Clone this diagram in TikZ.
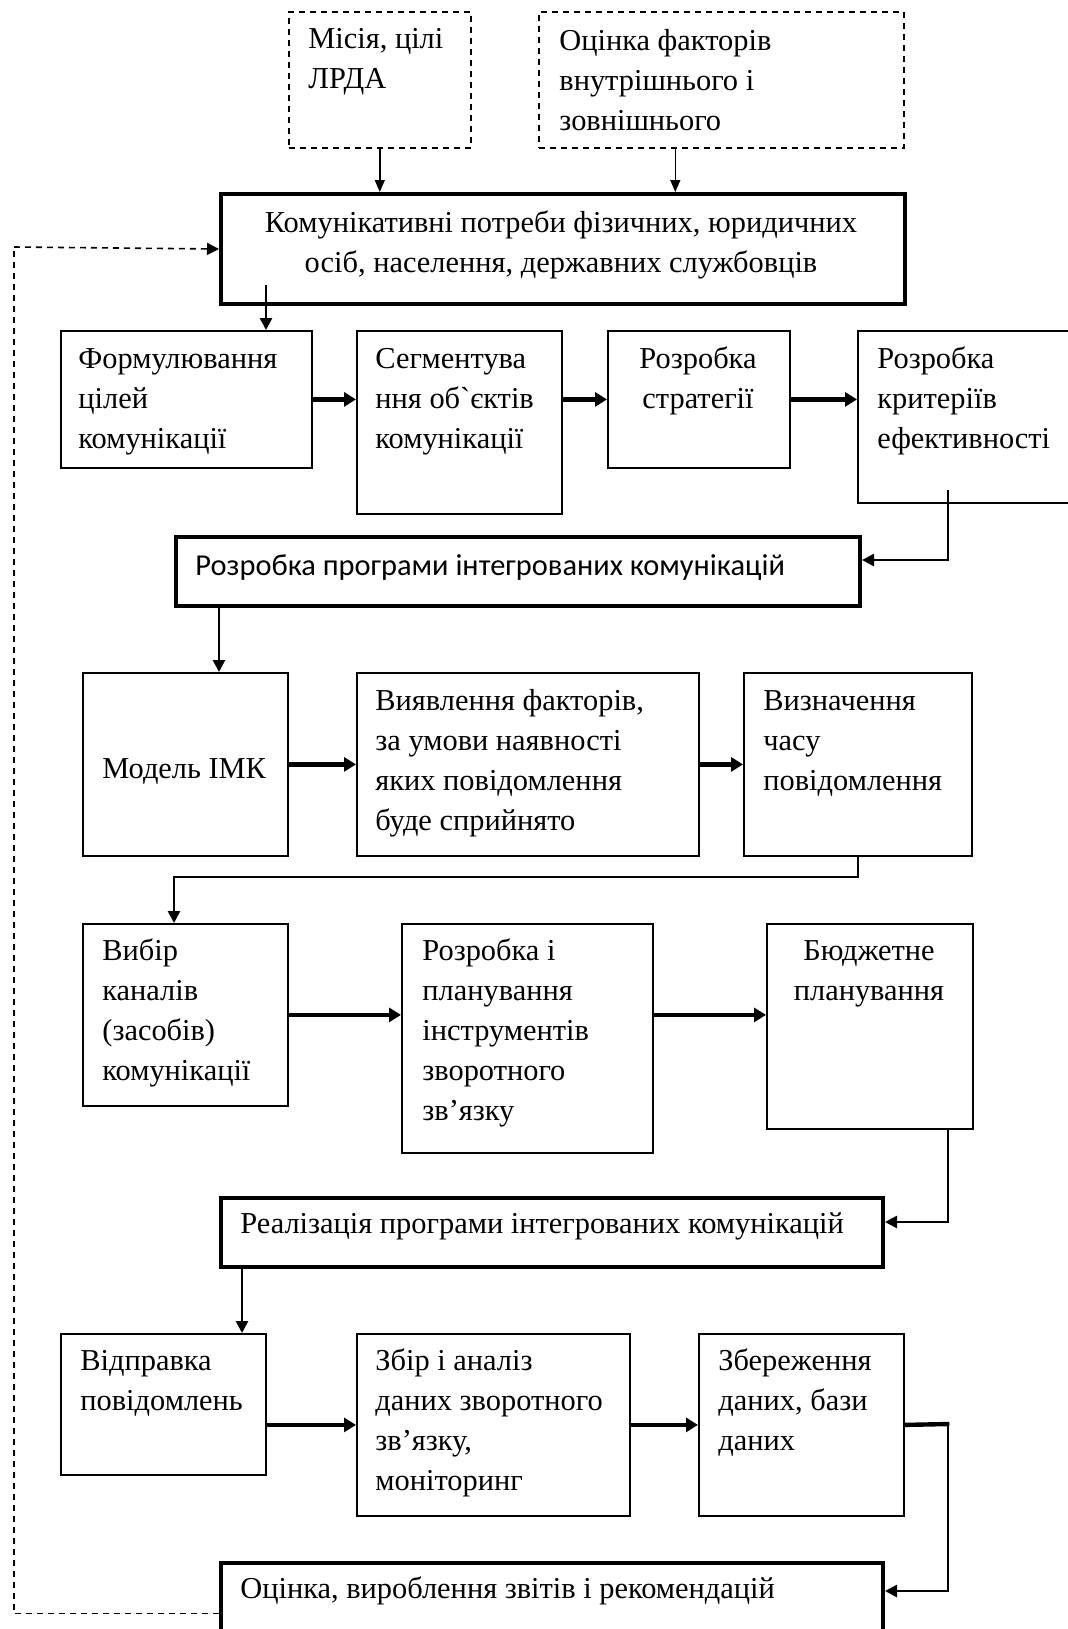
\documentclass[tikz,border=0pt]{standalone}
\usepackage{fontspec}
\setmainfont{Liberation Serif}[Ligatures=TeXOff]
\newfontfamily\calibri{Carlito}
\usetikzlibrary{arrows.meta}

\begin{document}
\begin{tikzpicture}[x=0.5pt,y=-0.5pt,
		box/.style={draw, line width=0.9pt, inner sep=0pt, anchor=north west},
		bigbox/.style={box, line width=2pt},
		dbox/.style={box, dashed, dash pattern=on 3pt off 2.5pt, line width=0.8pt},
		txt/.style={inner sep=0pt, anchor=base west, align=left, font=\fontsize{15.2}{20}\selectfont},
		ctxt/.style={txt, anchor=base, align=center},
		thin/.style={line width=0.7pt, -{Triangle[length=6pt,width=5pt]}},
		vline/.style={line width=1.3pt, -{Triangle[length=6pt,width=6pt]}},
		hline/.style={line width=2.2pt, -{Triangle[length=6pt,width=7pt]}},
		dline/.style={dashed, dash pattern=on 3pt off 2.5pt, line width=0.8pt}]
		\useasboundingbox (0,0) rectangle (1068,1629);

		% Top boxes (text nodes sit on their last baseline)
		\node[dbox, minimum width=91pt, minimum height=68pt] (mis) at (288,11) {};
		\node[txt] (misT) at (308,88) {Місія, цілі\\ЛРДА};
		\node[dbox, minimum width=182.5pt, minimum height=68pt] (ocin) at (538,11) {};
		\node[txt] (ocinT) at (559,130) {Оцінка факторів\\внутрішнього і\\зовнішнього};

		\node[bigbox, minimum width=342pt, minimum height=55pt] (need) at (219,192) {};
		\node[ctxt] (needT) at (561,272) {Комунікативні потреби фізичних, юридичних\\осіб, населення, державних службовців};

		% Row 1
		\node[box, minimum width=125.5pt, minimum height=68.5pt] (form) at (60,330) {};
		\node[txt] (formT) at (78,448) {Формулювання\\цілей\\комунікації};
		\node[box, minimum width=102.5pt, minimum height=91.5pt] (seg) at (356,330) {};
		\node[txt] (segT) at (375,448) {Сегментува\\ння об`єктів\\комунікації};
		\node[box, minimum width=91pt, minimum height=68.5pt] (strat) at (607,330) {};
		\node[ctxt] (stratT) at (698,408) {Розробка\\стратегії};
		\node[box, minimum width=109pt, minimum height=86pt] (krit) at (857,330) {};
		\node[txt] (kritT) at (877,448) {Розробка\\критеріїв\\ефективності};

		\node[bigbox, minimum width=342pt, minimum height=34.5pt] (prog) at (174,535) {};
		\node[txt, font=\calibri\fontsize{15.2}{20}\selectfont] (progT) at (195,575) {Розробка програми інтегрованих комунікацій};

		% Row 2
		\node[box, minimum width=102.5pt, minimum height=91.5pt] (model) at (82,672) {};
		\node[txt] (modelT) at (102,778) {Модель ІМК};
		\node[box, minimum width=171pt, minimum height=91.5pt] (vyav) at (356,672) {};
		\node[txt] (vyavT) at (375,830) {Виявлення факторів,\\за умови наявності\\яких повідомлення\\буде сприйнято};
		\node[box, minimum width=114pt, minimum height=91.5pt] (vyzn) at (743,672) {};
		\node[txt] (vyznT) at (763,790) {Визначення\\часу\\повідомлення};

		% Row 3
		\node[box, minimum width=102.5pt, minimum height=91pt] (vybir) at (82,923) {};
		\node[txt] (vybirT) at (102,1080) {Вибір\\каналів\\(засобів)\\комунікації};
		\node[box, minimum width=125.5pt, minimum height=114.5pt] (rozpl) at (401,923) {};
		\node[txt] (rozplT) at (422,1120) {Розробка і\\планування\\інструментів\\зворотного\\зв’язку};
		\node[box, minimum width=103pt, minimum height=102.5pt] (budzh) at (766,923) {};
		\node[ctxt] (budzhT) at (869,1000) {Бюджетне\\планування};

		\node[bigbox, minimum width=331pt, minimum height=34.5pt] (real) at (219,1196) {};
		\node[txt] (realT) at (240,1233) {Реалізація програми інтегрованих комунікацій};

		% Row 4
		\node[box, minimum width=102.5pt, minimum height=70.5pt] (vidpr) at (60,1333) {};
		\node[txt] (vidprT) at (80,1410) {Відправка\\повідомлень};
		\node[box, minimum width=136.5pt, minimum height=91pt] (zbir) at (356,1333) {};
		\node[txt] (zbirT) at (375,1490) {Збір і аналіз\\даних зворотного\\зв’язку,\\моніторинг};
		\node[box, minimum width=102.5pt, minimum height=91pt] (zber) at (698,1333) {};
		\node[txt] (zberT) at (718,1450) {Збереження\\даних, бази\\даних};

		\node[bigbox, minimum width=331pt, minimum height=39.5pt] (ocinka) at (219,1561) {};
		\node[txt] (ocinkaT) at (240,1598) {Оцінка, вироблення звітів і рекомендацій};

		% Helper points
		\coordinate (c1) at (266,285);
		\coordinate (c2) at (948,490);
		\coordinate (c3) at (174,877);
		\coordinate (c4) at (948,1128);
		\coordinate (c5) at (948,1424);
		\coordinate (c6) at (14,247);

		% Inputs
		\draw[thin] (mis.south) -- (mis.south |- need.north);
		\draw[thin] ([xshift=-23pt]ocin.south) -- ([xshift=-23pt]ocin.south |- need.north);
		\draw[vline] (c1) -- (c1 |- form.north);

		% Row 1 arrows
		\draw[hline] (form.east) -- (form.east -| seg.west);
		\draw[hline] (form.east -| seg.east) -- (form.east -| strat.west);
		\draw[hline] (strat.east) -- (strat.east -| krit.west);
		\draw[vline] (c2) |- ([yshift=5.75pt]prog.east);
		\draw[vline] ([xshift=22.5pt]prog.south west) -- ([xshift=22.5pt]prog.south west |- model.north);

		% Row 2 arrows
		\draw[hline] (model.east) -- (vyav.west);
		\draw[hline] (vyav.east) -- (vyzn.west);
		\draw[vline] (vyzn.south) |- (c3) -- (c3 |- vybir.north);

		% Row 3 arrows
		\draw[hline] (vybir.east) -- (vybir.east -| rozpl.west);
		\draw[hline] (vybir.east -| rozpl.east) -- (vybir.east -| budzh.west);
		\draw[vline] (c4) |- ([yshift=5.25pt]real.east);
		\draw[vline] ([xshift=11.5pt]real.south west) -- ([xshift=11.5pt]real.south west |- vidpr.north);

		% Row 4 arrows
		\draw[hline] (zbir.west -| vidpr.east) -- (zbir.west);
		\draw[hline] (zbir.east) -- (zber.west);
		\draw[line width=2.2pt] (zber.east) -- ([xshift=0.65pt]c5);
		\draw[vline] ([yshift=1.1pt]c5) |- ([yshift=5.75pt]ocinka.east);

		% Feedback loop
		\draw[dline] ([yshift=-5.5pt]ocinka.west) -| (c6);
		\draw[dline, -{Triangle[length=6pt,width=6pt]}] (c6) -- (need.west);
	\end{tikzpicture}
\end{document}
